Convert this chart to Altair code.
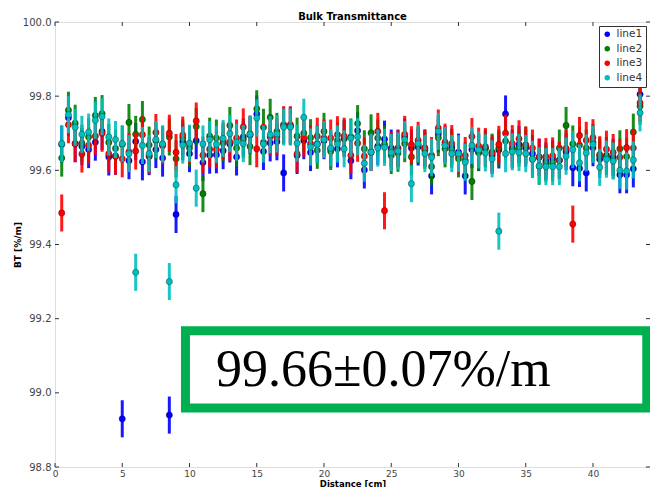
import altair as alt
import pandas as pd

# ---- data ----
distance = [0.5, 1.0, 1.5, 2.0, 2.5, 3.0, 3.5, 4.0, 4.5, 5.0, 5.5, 6.0, 6.5, 7.0, 7.5,
            8.0, 8.5, 9.0, 9.5, 10.0, 10.5, 11.0, 11.5, 12.0, 12.5, 13.0, 13.5, 14.0,
            14.5, 15.0, 15.5, 16.0, 16.5, 17.0, 17.5, 18.0, 18.5, 19.0, 19.5, 20.0,
            20.5, 21.0, 21.5, 22.0, 22.5, 23.0, 23.5, 24.0, 24.5, 25.0, 25.5, 26.0,
            26.5, 27.0, 27.5, 28.0, 28.5, 29.0, 29.5, 30.0, 30.5, 31.0, 31.5, 32.0,
            32.5, 33.0, 33.5, 34.0, 34.5, 35.0, 35.5, 36.0, 36.5, 37.0, 37.5, 38.0,
            38.5, 39.0, 39.5, 40.0, 40.5, 41.0, 41.5, 42.0, 42.5, 43.0, 43.5]

line1 = [99.670, 99.742, 99.672, 99.664, 99.656, 99.676, 99.705, 99.636, 99.638, 98.930,
         99.626, 99.678, 99.623, 99.637, 99.656, 99.633, 98.940, 99.481, 99.677, 99.645,
         99.680, 99.621, 99.641, 99.642, 99.653, 99.671, 99.636, 99.690, 99.695, 99.752,
         99.651, 99.674, 99.677, 99.593, 99.720, 99.640, 99.680, 99.648, 99.671, 99.680,
         99.658, 99.658, 99.685, 99.626, 99.707, 99.601, 99.650, 99.665, 99.684, 99.660,
         99.660, 99.690, 99.660, 99.663, 99.660, 99.585, 99.698, 99.670, 99.662, 99.649,
         99.585, 99.656, 99.648, 99.660, 99.640, 99.655, 99.752, 99.660, 99.670, 99.660,
         99.645, 99.635, 99.625, 99.631, 99.627, 99.650, 99.607, 99.605, 99.593, 99.661,
         99.630, 99.640, 99.635, 99.588, 99.588, 99.604, 99.805]

line2 = [99.633, 99.762, 99.727, 99.673, 99.690, 99.748, 99.753, 99.675, 99.659, 99.670,
         99.729, 99.697, 99.737, 99.668, 99.680, 99.670, 99.690, 99.631, 99.687, 99.660,
         99.718, 99.537, 99.692, 99.687, 99.674, 99.721, 99.660, 99.683, 99.664, 99.766,
         99.716, 99.743, 99.705, 99.721, 99.718, 99.692, 99.700, 99.688, 99.654, 99.705,
         99.651, 99.680, 99.687, 99.690, 99.726, 99.658, 99.701, 99.687, 99.670, 99.640,
         99.646, 99.672, 99.636, 99.668, 99.654, 99.610, 99.688, 99.658, 99.656, 99.631,
         99.627, 99.570, 99.648, 99.658, 99.649, 99.660, 99.679, 99.655, 99.660, 99.668,
         99.630, 99.611, 99.619, 99.620, 99.660, 99.721, 99.671, 99.668, 99.660, 99.675,
         99.639, 99.637, 99.628, 99.658, 99.637, 99.703, 99.773]

line3 = [99.485, 99.723, 99.672, 99.644, 99.667, 99.692, 99.700, 99.644, 99.638, 99.631,
         99.650, 99.652, 99.696, 99.640, 99.702, 99.666, 99.700, 99.648, 99.695, 99.670,
         99.733, 99.641, 99.657, 99.656, 99.680, 99.676, 99.687, 99.717, 99.698, 99.658,
         99.675, 99.690, 99.690, 99.723, 99.723, 99.644, 99.687, 99.672, 99.692, 99.687,
         99.687, 99.696, 99.692, 99.640, 99.673, 99.638, 99.648, 99.705, 99.491, 99.653,
         99.658, 99.697, 99.669, 99.681, 99.660, 99.640, 99.714, 99.676, 99.672, 99.640,
         99.640, 99.691, 99.665, 99.664, 99.645, 99.670, 99.700, 99.672, 99.685, 99.668,
         99.660, 99.636, 99.637, 99.639, 99.627, 99.659, 99.455, 99.694, 99.681, 99.688,
         99.642, 99.657, 99.648, 99.635, 99.661, 99.660, 99.782]

line4 = [99.672, 99.750, 99.716, 99.697, 99.703, 99.735, 99.745, 99.690, 99.683, 99.672,
         99.645, 99.325, 99.667, 99.645, 99.683, 99.671, 99.300, 99.561, 99.668, 99.673,
         99.552, 99.671, 99.683, 99.670, 99.686, 99.699, 99.676, 99.672, 99.697, 99.741,
         99.671, 99.696, 99.698, 99.717, 99.717, 99.673, 99.743, 99.663, 99.670, 99.683,
         99.660, 99.671, 99.658, 99.687, 99.691, 99.619, 99.649, 99.660, 99.662, 99.648,
         99.652, 99.683, 99.564, 99.672, 99.645, 99.635, 99.705, 99.667, 99.645, 99.645,
         99.622, 99.667, 99.655, 99.647, 99.631, 99.436, 99.645, 99.650, 99.648, 99.645,
         99.630, 99.612, 99.610, 99.610, 99.610, 99.638, 99.656, 99.620, 99.647, 99.670,
         99.608, 99.630, 99.625, 99.600, 99.598, 99.628, 99.755]

error = 0.05
series_names = ["line1", "line2", "line3", "line4"]
series_colors = ["#0000ff", "#008000", "#ff0000", "#00bfbf"]

x_ticks = [0, 5, 10, 15, 20, 25, 30, 35, 40]
y_ticks = [98.8, 99.0, 99.2, 99.4, 99.6, 99.8, 100.0]

annotation_text = ["99.66\u00b10.07%/m"]
annotation_box_x = [9.70, 44.0]
annotation_box_y = [99.1675, 98.959]
annotation_text_pos = [11.97, 99.0183]

# ---- build tables ----
rows = []
for name, vals in zip(series_names, [line1, line2, line3, line4]):
    for xv, v in zip(distance, vals):
        rows.append({"x": xv, "value": v, "lo": v - error, "hi": v + error, "series": name})
df = pd.DataFrame(rows)

W, H = 595, 445
FONT = "DejaVu Sans"

xscale = alt.Scale(domain=[0, 44.24], nice=False, zero=False)
yscale = alt.Scale(domain=[98.8, 100.0], nice=False, zero=False)

xaxis = alt.Axis(values=x_ticks, title="Distance [cm]", titleFont=FONT, titleFontSize=8.5,
                 titleFontWeight="bold", titleColor="#000", labelFont=FONT, labelFontSize=9,
                 labelColor="#444", ticks=False, domain=False, grid=False, labelPadding=2,
                 titleY=12, titleBaseline="top", labelFlush=False)
yaxis = alt.Axis(values=y_ticks, format=".1f", title="BT [%/m]", titleFont=FONT, titleFontSize=9,
                 titleFontWeight="bold", titleColor="#000", labelFont=FONT, labelFontSize=10,
                 labelColor="#444", ticks=False, domain=False, grid=False, labelPadding=4,
                 titleX=-38, titleY=H / 2, titleAngle=270, titleAlign="center",
                 titleBaseline="middle")

layers = []
for name, col in zip(series_names, series_colors):
    sub = alt.Chart(df).transform_filter(alt.datum.series == name)
    bars = sub.mark_rule(strokeWidth=3, opacity=0.9).encode(
        x=alt.X("x:Q", scale=xscale, axis=xaxis),
        y=alt.Y("lo:Q", scale=yscale, axis=yaxis),
        y2="hi:Q",
        color=alt.value(col),
    )
    pts = sub.mark_circle(size=40, opacity=1, stroke="#000", strokeWidth=0.5, strokeOpacity=0.6).encode(
        x=alt.X("x:Q", scale=xscale, axis=xaxis),
        y=alt.Y("value:Q", scale=yscale, axis=yaxis),
        color=alt.Color("series:N", scale=alt.Scale(domain=series_names, range=series_colors),
                        legend=alt.Legend(title=None, orient="top-right", offset=4,
                                          strokeColor="#333", fillColor="white", padding=3,
                                          labelFont=FONT, labelFontSize=10.5, labelColor="#333",
                                          symbolType="circle", symbolSize=30, rowPadding=3.5,
                                          labelOffset=4, cornerRadius=0, symbolStrokeWidth=0)),
    )
    layers += [bars, pts]

# inward tick marks (matplotlib style)
ytick_df = pd.DataFrame({"t": y_ticks})
xtick_df = pd.DataFrame({"t": x_ticks})
tick_l = alt.Chart(ytick_df).mark_rule(color="#333", strokeWidth=1).encode(
    y=alt.Y("t:Q", scale=yscale, axis=yaxis), x=alt.value(0), x2=alt.value(4))
tick_r = alt.Chart(ytick_df).mark_rule(color="#333", strokeWidth=1).encode(
    y=alt.Y("t:Q", scale=yscale, axis=yaxis), x=alt.value(W - 4), x2=alt.value(W))
tick_b = alt.Chart(xtick_df).mark_rule(color="#333", strokeWidth=1).encode(
    x=alt.X("t:Q", scale=xscale, axis=xaxis), y=alt.value(H - 4), y2=alt.value(H))
tick_t = alt.Chart(xtick_df).mark_rule(color="#333", strokeWidth=1).encode(
    x=alt.X("t:Q", scale=xscale, axis=xaxis), y=alt.value(0), y2=alt.value(4))

box_df = pd.DataFrame({"x": [annotation_box_x[0]], "x2": [annotation_box_x[1]],
                       "y": [annotation_box_y[0]], "y2": [annotation_box_y[1]]})
box = alt.Chart(box_df).mark_rect(fill="white", stroke="#00b050", strokeWidth=9).encode(
    x=alt.X("x:Q", scale=xscale, axis=xaxis), x2="x2:Q",
    y=alt.Y("y:Q", scale=yscale, axis=yaxis), y2="y2:Q")

text_df = pd.DataFrame({"x": [annotation_text_pos[0]], "y": [annotation_text_pos[1]],
                        "label": annotation_text})
text = alt.Chart(text_df).mark_text(font="Liberation Serif", fontSize=52, align="left",
                                    baseline="alphabetic", color="#000").encode(
    x=alt.X("x:Q", scale=xscale, axis=xaxis),
    y=alt.Y("y:Q", scale=yscale, axis=yaxis),
    text="label:N")

chart = alt.layer(*layers, tick_l, tick_r, tick_b, tick_t, box, text).properties(
    width=W, height=H,
    autosize=alt.AutoSizeParams(type="none"),
    padding={"left": 47, "top": 14, "right": 0, "bottom": 20},
    title=alt.TitleParams("Bulk Transmittance", font=FONT, fontSize=10, fontWeight="bold",
                          anchor="middle", offset=3, dy=8, color="#000"),
).configure_view(stroke="#333", strokeWidth=1).configure(background="white")

chart.save("out.html", embed_options={"renderer": "svg", "actions": False})
